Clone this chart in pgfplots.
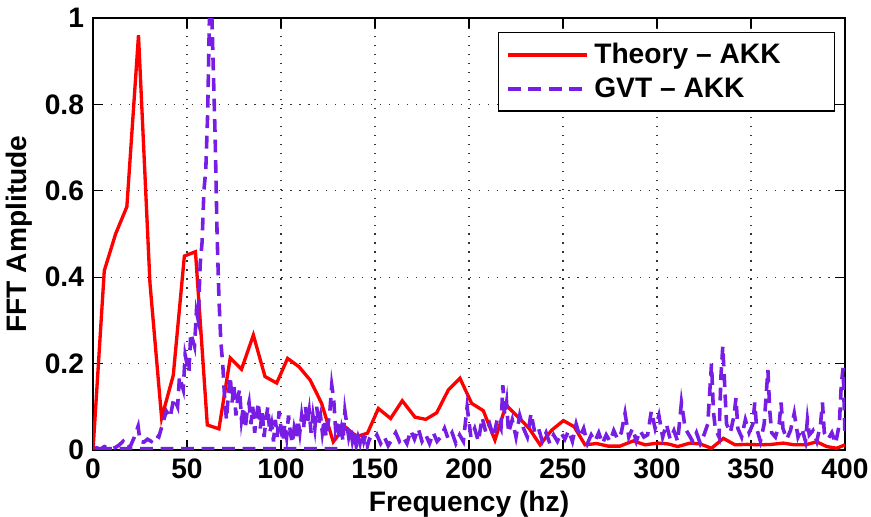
\documentclass[border=0pt]{standalone}
\usepackage{fontspec}
\setmainfont{Liberation Sans}
\usepackage{pgfplots}
\pgfplotsset{compat=1.18}
\definecolor{gvtpurple}{RGB}{120,30,228}
\pgfplotstableread{
x y
0 0
6 0.415
12 0.50
18 0.563
24.2 0.96
30.3 0.386
36.5 0.074
42.7 0.173
48.6 0.449
54.5 0.459
60.8 0.058
67 0.049
73 0.213
79 0.187
85.3 0.266
91.5 0.17
97.7 0.155
103.5 0.212
109.5 0.193
115.5 0.162
121.6 0.108
127.8 0.019
134 0.054
140.3 0.031
146 0.039
151.8 0.096
158.3 0.073
164.5 0.114
171.3 0.076
177 0.071
182.8 0.086
189 0.139
195.2 0.166
201.4 0.108
207.6 0.091
213.8 0.023
219.7 0.104
226.2 0.076
232 0.050
237.8 0.012
244 0.046
250.2 0.068
255.9 0.054
261.7 0.012
267.9 0.015
273.9 0.009
280.3 0.009
287.4 0.021
293.6 0.012
300.5 0.016
306 0.014
311 0.008
317.6 0.016
323 0.014
329 0.004
335.3 0.027
341.5 0.012
348 0.013
354.8 0.012
361 0.013
367.2 0.016
373 0.012
379 0.012
384.9 0.019
390.3 0.008
395.6 0.004
400 0.012
}\theory
\pgfplotstableread{
x y
130 0.003
0 0.003
2 0.005
4 0.002
6 0.008
8 0.004
10 0.003
12 0.006
14 0.012
16 0.02
18 0.005
20 0.01
22 0.03
24 0.055
25 0.02
27 0.018
29 0.025
31 0.02
33 0.035
35 0.03
37 0.06
39 0.09
41 0.075
43 0.12
45 0.1
46 0.17
48 0.14
49 0.22
51 0.18
52 0.27
54 0.24
55 0.32
56 0.30
57 0.43
58 0.48
59 0.6
60 0.65
61 0.78
62 1.02
63 1.04
64 0.88
65 0.72
66 0.50
67 0.35
68 0.25
69 0.2
70 0.12
71 0.07
72 0.13
73 0.17
74 0.11
75 0.15
76 0.08
77 0.12
78 0.14
79 0.07
80 0.1
81 0.05
82 0.09
83 0.11
84 0.06
85 0.1
86 0.04
87 0.08
88 0.11
89 0.05
90 0.09
91 0.03
92 0.07
93 0.1
94 0.04
95 0.06
96 0.02
97 0.07
98 0.03
99 0.09
100 0.05
101 0.02
102 0.06
103 0.03
104 0.08
105 0.04
106 0.015
107 0.05
108 0.03
109 0.07
110 0.04
111 0.08
112 0.05
113 0.1
114 0.06
115 0.09
116 0.04
117 0.08
118 0.05
119 0.1
120 0.06
121 0.08
122 0.04
123 0.07
124 0.03
125 0.06
126 0.09
127 0.15
128 0.12
129 0.05
130 0.07
131 0.03
132 0.05
133 0.02
134 0.09
135 0.06
136 0.03
137 0.05
138 0.02
139 0.04
140 0.01
141 0.03
142 0.015
143 0.04
144 0.02
145 0.035
146 0.01
147 0.025
149 0.02
151 0.035
153 0.015
155 0.03
157 0.01
159 0.025
161 0.04
163 0.02
165 0.03
167 0.015
169 0.045
171 0.025
173 0.05
175 0.02
177 0.035
179 0.015
181 0.04
183 0.02
185 0.03
187 0.05
189 0.025
191 0.04
193 0.015
195 0.035
197 0.02
199 0.1
200 0.065
201 0.03
203 0.05
205 0.02
207 0.075
209 0.04
211 0.06
213 0.03
215 0.07
217 0.05
218 0.15
219 0.08
220 0.11
221 0.04
223 0.07
225 0.03
227 0.08
229 0.05
231 0.03
233 0.085
235 0.04
237 0.05
239 0.02
241 0.04
243 0.015
245 0.035
247 0.02
249 0.04
251 0.025
253 0.045
255 0.02
257 0.06
259 0.03
261 0.05
263 0.015
265 0.035
267 0.02
269 0.04
271 0.015
273 0.035
275 0.02
277 0.045
279 0.025
281 0.04
283 0.085
285 0.03
287 0.05
289 0.02
291 0.045
293 0.03
295 0.035
297 0.09
299 0.05
301 0.08
303 0.03
305 0.06
307 0.025
309 0.045
311 0.02
313 0.11
315 0.05
317 0.035
319 0.02
321 0.04
323 0.015
325 0.035
327 0.06
328 0.13
329 0.2
330 0.09
331 0.05
333 0.03
334 0.17
335 0.24
336 0.15
337 0.06
339 0.04
341 0.08
342 0.12
343 0.05
345 0.03
347 0.07
349 0.04
351 0.06
352 0.11
353 0.05
355 0.02
357 0.06
359 0.185
360 0.09
361 0.04
363 0.03
365 0.06
366 0.11
367 0.05
369 0.025
371 0.045
373 0.085
375 0.03
377 0.05
379 0.02
380 0.07
381 0.035
383 0.045
385 0.02
387 0.06
388 0.11
389 0.04
391 0.025
393 0.04
395 0.015
397 0.06
398 0.15
399 0.19
400 0.03
}\gvt
\begin{document}
\begin{tikzpicture}
\begin{axis}[
  scale only axis,
  width=293.5pt, height=168.6pt,
  xmin=0, xmax=400, ymin=0, ymax=1,
  xtick={0,50,...,400},
  ytick={0,0.2,0.4,0.6,0.8,1},
  tick align=inside,
  major tick length=4pt,
  tick style={black, line width=0.5pt},
  axis line style={black, line width=0.9pt},
  grid=major,
  major grid style={black!80, line width=0.5pt, dash pattern=on 0.5pt off 3pt},
  /pgf/number format/assume math mode=true,
  ticklabel style={font=\fontsize{11}{13}\selectfont\bfseries},
  xlabel={Frequency (hz)},
  ylabel={FFT Amplitude},
  label style={font=\fontsize{11}{13}\selectfont\bfseries},
  xlabel style={yshift=2.2pt},
  ylabel style={yshift=-2pt},
  legend style={at={(rel axis cs:0.987,0.968)}, anchor=north east, draw=black, line width=0.6pt,
    font=\fontsize{11}{13}\selectfont\bfseries, inner xsep=3pt, inner ysep=2pt, row sep=0pt},
  legend cell align=left,
  legend image code/.code={\draw[#1] (0pt,0pt) -- (31pt,0pt);},
]
\addplot[red, line width=1.3pt] table[x=x,y=y] {\theory};
\addlegendentry{Theory -- AKK\rule{16pt}{0pt}}
\addplot[gvtpurple, line width=1.4pt, dash pattern=on 5pt off 3pt] table[x=x,y=y] {\gvt};
\addlegendentry{GVT -- AKK}
\coordinate (SW) at (rel axis cs:0,0);
\coordinate (NE) at (rel axis cs:1,1);
\end{axis}
\pgfresetboundingbox
\path[use as bounding box] ([shift={(-36.3pt,-26.15pt)}]SW) rectangle ([shift={(10.15pt,7.03pt)}]NE);
\end{tikzpicture}
\end{document}
